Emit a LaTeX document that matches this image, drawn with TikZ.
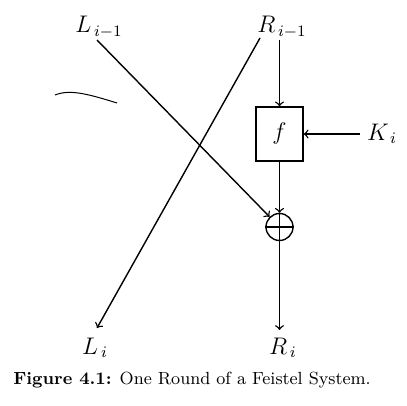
\documentclass[tikz,border=0pt]{standalone}
\usetikzlibrary{positioning}
\begin{document}
\begin{tikzpicture}[x=0.5pt,y=-0.5pt,line width=0.7pt]
\useasboundingbox (0,0) rectangle (407,406);
\tikzset{lbl/.style={font=\fontsize{12}{14}\selectfont}}
\node[lbl] (Lprev) at (99,27) {$L_{\,i-1}$};
\node[lbl] (Rprev) at (282,27) {$R_{\,i-1}$};
\node[lbl, draw, minimum width=23.5pt, minimum height=27pt] (f) at (279.5,134) {$f$};
\node[lbl] (K) at (382,134) {$K_{\,i}$};
\node[draw, circle, minimum size=13.5pt, inner sep=0pt] (xor) at (279.5,227) {};
\node[lbl] (Lnext) at (95,348) {$L_{\,i}$};
\node[lbl] (Rnext) at (283,348) {$R_{\,i}$};
\node[font=\fontsize{8.8}{11}\selectfont] (cap) at (192,380) {\textbf{Figure 4.1:} One Round of a Feistel System.};
\coordinate (ls) at (97,40);
\coordinate (rd) at (260,38);
\coordinate (rv) at (279.5,40);
\coordinate (le) at (97,328);
\coordinate (re) at (279.5,330);
\draw[->] (ls) -- (xor);
\draw[->] (rv) -- (f);
\draw[->] (rd) -- (le);
\draw[->] (K.west) -- (f.east);
\draw[->] (f) -- (xor);
\draw[->] (xor.north) -- (re);
\draw (xor.west) -- (xor.east);
\draw[line width=0.5pt] (55,95) .. controls (70,89) and (88,94) .. (117,103);
\end{tikzpicture}
\end{document}
